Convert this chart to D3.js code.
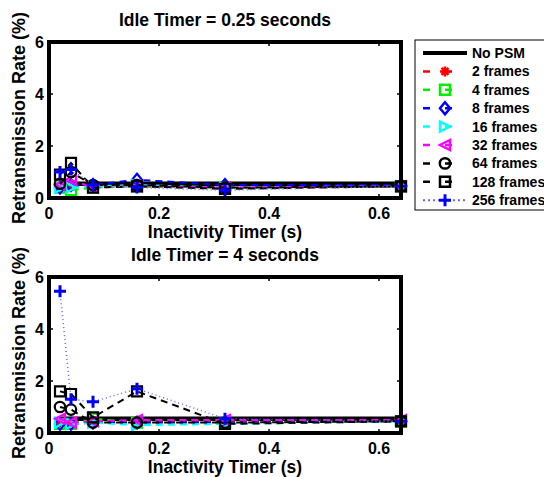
<!DOCTYPE html>
<html>
<head>
<meta charset="UTF-8">
<script src="https://d3js.org/d3.v7.min.js"></script>
<style>
  body { margin: 0; background: #fff; }
  text { font-family: "Liberation Sans", Arial, sans-serif; font-weight: bold; }
</style>
</head>
<body>
<svg width="544" height="477"></svg>
<script>
// inactivity timer values (s)
var timers = [0.02, 0.04, 0.08, 0.16, 0.32, 0.64];
var seriesNames = ["No PSM", "2 frames", "4 frames", "8 frames", "16 frames", "32 frames", "64 frames", "128 frames", "256 frames"];
var titles = ["Idle Timer = 0.25 seconds", "Idle Timer = 4 seconds"];
var xTicks = [0, 0.2, 0.4, 0.6];
var yTicks = [0, 2, 4, 6];

// retransmission rate (%) - idle timer 0.25 s
var idle025 = [
  [0.55, 0.55, 0.55, 0.55, 0.55, 0.55],
  [0.45, 0.45, 0.45, 0.45, 0.40, 0.45],
  [0.40, 0.30, 0.40, 0.45, 0.40, 0.45],
  [0.40, 0.50, 0.50, 0.70, 0.50, 0.50],
  [0.40, 0.40, 0.45, 0.50, 0.40, 0.45],
  [0.50, 0.70, 0.40, 0.45, 0.40, 0.45],
  [0.55, 1.00, 0.50, 0.50, 0.40, 0.45],
  [0.90, 1.35, 0.40, 0.45, 0.35, 0.45],
  [1.00, 1.10, 0.50, 0.40, 0.30, 0.45]
];
// retransmission rate (%) - idle timer 4 s
var idle4 = [
  [0.55, 0.55, 0.55, 0.55, 0.55, 0.55],
  [0.40, 0.40, 0.45, 0.45, 0.45, 0.45],
  [0.35, 0.35, 0.55, 0.40, 0.40, 0.45],
  [0.35, 0.35, 0.40, 0.40, 0.40, 0.45],
  [0.40, 0.35, 0.40, 0.30, 0.35, 0.45],
  [0.55, 0.40, 0.45, 0.50, 0.50, 0.50],
  [1.00, 0.90, 0.40, 0.40, 0.40, 0.45],
  [1.60, 1.50, 0.60, 1.60, 0.35, 0.45],
  [5.45, 1.30, 1.20, 1.70, 0.55, 0.45]
];

var colors = ["#000", "#ff0000", "#00ee00", "#0000ff", "#00ffff", "#ff00ff", "#000", "#000", "#0000ff"];
var markers = ["none", "star", "square", "diamond", "triRight", "triLeft", "circle", "square", "plus"];

var svg = d3.select("svg");
var x = d3.scaleLinear().domain([0, 0.64]).range([49, 401]);

function markerPath(type) {
  var r = 5;
  if (type == "square") return "M" + (-r) + "," + (-r) + "h" + 2 * r + "v" + 2 * r + "h" + (-2 * r) + "Z";
  if (type == "diamond") return "M0," + (-r - 1) + "L" + (r) + ",0L0," + (r + 1) + "L" + (-r) + ",0Z";
  if (type == "circle") return d3.symbol(d3.symbolCircle, 85)();
  if (type == "triRight") return "M" + (-r) + "," + (-r) + "L" + r + ",0L" + (-r) + "," + r + "Z";
  if (type == "triLeft") return "M" + r + "," + (-r) + "L" + (-r) + ",0L" + r + "," + r + "Z";
  if (type == "plus") return "M" + (-r - 1) + ",0H" + (r + 1) + "M0," + (-r - 1) + "V" + (r + 1);
  if (type == "star") return "M" + (-r) + ",0H" + r + "M0," + (-r) + "V" + r +
    "M-3.5,-3.5L3.5,3.5M-3.5,3.5L3.5,-3.5";
  return "";
}

function dashFor(i) {
  if (i == 0) return null;
  if (i == 8) return "1,3";
  return "7,5";
}

function drawPanel(top, title, data) {
  var y = d3.scaleLinear().domain([0, 6]).range([top + 156, top]);
  var g = svg.append("g");

  g.append("text").attr("x", 225).attr("y", top - 16)
    .attr("text-anchor", "middle").style("font-size", "17.5px").text(title);

  // series
  data.forEach(function (vals, i) {
    var pts = timers.map(function (t, j) { return [t, vals[j]]; });
    var line = d3.line().x(d => x(d[0])).y(d => y(d[1]));
    g.append("path").attr("d", line(pts))
      .attr("fill", "none")
      .attr("stroke", i == 8 ? "#6666ff" : colors[i])
      .attr("stroke-width", i == 0 ? 4.5 : (i == 8 ? 1.5 : 2))
      .attr("stroke-dasharray", dashFor(i));
    if (markers[i] != "none") {
      g.selectAll(".m" + i).data(pts).enter().append("path")
        .attr("transform", d => "translate(" + x(d[0]) + "," + y(d[1]) + ")")
        .attr("d", markerPath(markers[i]))
        .attr("fill", "none")
        .attr("stroke", colors[i])
        .attr("stroke-width", markers[i] == "plus" ? 3 : 2.2);
    }
  });

  // ticks inward
  xTicks.slice(1).forEach(function (t) {
    g.append("line").attr("x1", x(t)).attr("x2", x(t)).attr("y1", y(0)).attr("y2", y(0) - 4).attr("stroke", "#000").attr("stroke-width", 1.5);
    g.append("line").attr("x1", x(t)).attr("x2", x(t)).attr("y1", y(6)).attr("y2", y(6) + 4).attr("stroke", "#000").attr("stroke-width", 1.5);
  });
  yTicks.slice(1, 3).forEach(function (t) {
    g.append("line").attr("x1", x(0)).attr("x2", x(0) + 4).attr("y1", y(t)).attr("y2", y(t)).attr("stroke", "#000").attr("stroke-width", 1.5);
    g.append("line").attr("x1", x(0.64)).attr("x2", x(0.64) - 4).attr("y1", y(t)).attr("y2", y(t)).attr("stroke", "#000").attr("stroke-width", 1.5);
  });

  // box
  g.append("rect").attr("x", x(0)).attr("y", y(6))
    .attr("width", x(0.64) - x(0)).attr("height", y(0) - y(6))
    .attr("fill", "none").attr("stroke", "#000").attr("stroke-width", 4);

  // tick labels
  xTicks.forEach(function (t) {
    g.append("text").attr("x", x(t)).attr("y", y(0) + 21)
      .attr("text-anchor", "middle").style("font-size", "16px").text(t);
  });
  yTicks.forEach(function (t) {
    g.append("text").attr("x", x(0) - 5).attr("y", y(t) + 6)
      .attr("text-anchor", "end").style("font-size", "16px").text(t);
  });

  g.append("text").attr("x", 225).attr("y", y(0) + 40)
    .attr("text-anchor", "middle").style("font-size", "17.5px").text("Inactivity Timer (s)");
  g.append("text").attr("transform", "translate(25," + ((y(0) + y(6)) / 2 - 2) + ") rotate(-90)")
    .attr("text-anchor", "middle").style("font-size", "18px").text("Retransmission Rate (%)");
}

drawPanel(42, titles[0], idle025);
drawPanel(277, titles[1], idle4);

// legend
var lg = svg.append("g");
lg.append("rect").attr("x", 415).attr("y", 40).attr("width", 140).attr("height", 170)
  .attr("fill", "#fff").attr("stroke", "#000").attr("stroke-width", 1);
seriesNames.forEach(function (name, i) {
  var ly = 53 + i * 18.4;
  lg.append("line").attr("x1", 423).attr("x2", 467).attr("y1", ly).attr("y2", ly)
    .attr("stroke", i == 8 ? "#6666ff" : colors[i])
    .attr("stroke-width", i == 0 ? 4 : (i == 8 ? 2 : 2.5))
    .attr("stroke-dasharray", i == 0 ? null : (i == 8 ? "2,3" : "7,15"));
  if (markers[i] != "none") {
    lg.append("path").attr("transform", "translate(445," + ly + ")")
      .attr("d", markerPath(markers[i]))
      .attr("fill", "none").attr("stroke", colors[i])
      .attr("stroke-width", markers[i] == "plus" ? 3 : 2.5);
  }
  lg.append("text").attr("x", 472).attr("y", ly + 5).style("font-size", "14px").text(name);
});
</script>
</body>
</html>
